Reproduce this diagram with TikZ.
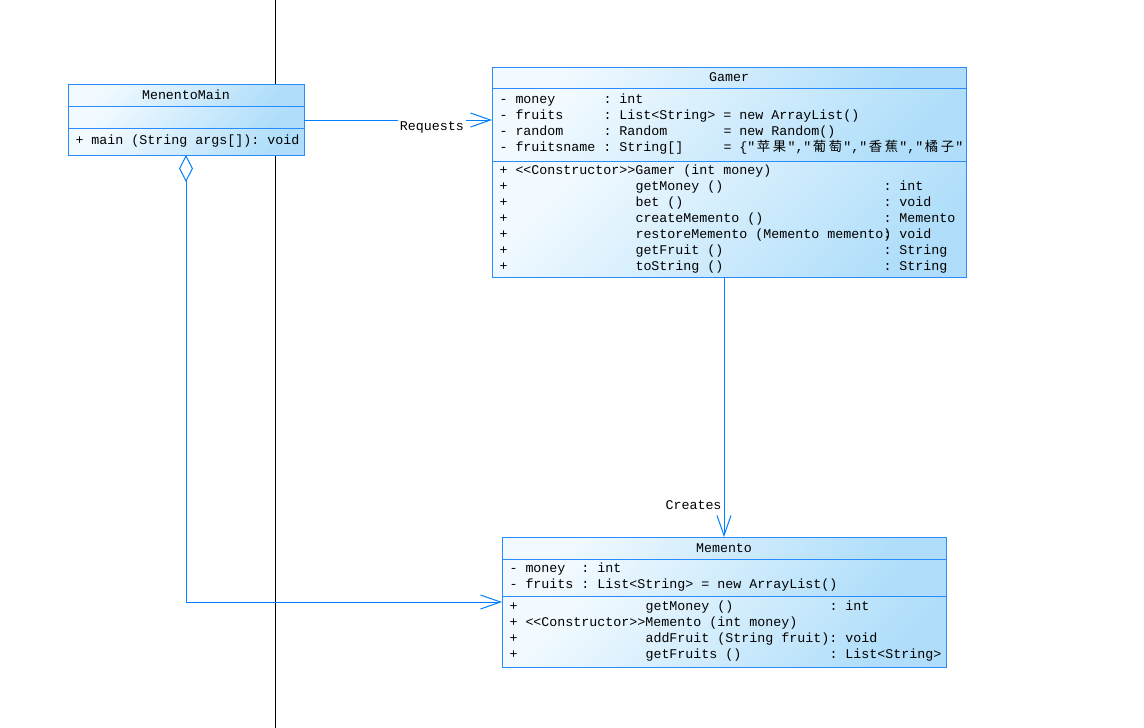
\documentclass[tikz,border=0pt]{standalone}
\usepackage{fontspec}
\setmonofont{Liberation Mono}
\newfontfamily\cjk{Noto Sans CJK SC}
\usetikzlibrary{arrows.meta, positioning}

\definecolor{umlline}{RGB}{0,128,255}
\definecolor{umlborder}{RGB}{40,140,255}
\definecolor{umllight}{RGB}{242,250,255}
\definecolor{umldark}{RGB}{176,222,250}

\newlength{\chw}
\setlength{\chw}{8pt}
\newcommand{\umlfont}{\ttfamily\fontsize{13.33pt}{16pt}\selectfont}
\newcommand{\fld}[2]{\makebox[#1\chw][l]{#2}}
\newcommand{\chsp}{\hspace*{\chw}}
\newcommand{\hz}[1]{\makebox[2\chw]{\cjk #1}}

\begin{document}
\begin{tikzpicture}[
    x=1pt, y=-1pt,
    compartment/.style={
        rectangle,
        draw=umlborder,
        line width=1pt,
        top color=umllight,
        bottom color=umldark,
        shading angle=45,
        inner xsep=7.5pt,
        inner ysep=0pt,
        outer sep=0pt,
        font=\umlfont
    },
    classtitle/.style={
        compartment,
        align=center
    },
    members/.style={
        compartment,
        align=left
    },
    assoc/.style={
        draw=umlline,
        line width=1pt,
        -{Straight Barb[length=20pt, width=14pt]}
    },
    aggr/.style={
        draw=umlline,
        line width=1pt,
        {Diamond[open, length=27pt, width=14pt]}-{Straight Barb[length=20pt, width=14pt]}
    },
    connlabel/.style={
        font=\umlfont,
        inner xsep=2pt,
        inner ysep=3pt
    }
]

\path[fill=white] (0,0) rectangle (1144,728);
\useasboundingbox (0,0) rectangle (1144,728);

% Linha vertical ao fundo
\draw[line width=1pt] (275,0) -- (275,728);

% Classe: MenentoMain
\node[classtitle, minimum width=236pt, minimum height=22pt] (main-title) at (186,95) {MenentoMain};
\node[members, text width=221pt, minimum height=22pt, below=0pt of main-title] (main-attrs) {};
\node[members, text width=221pt, minimum height=27pt, below=0pt of main-attrs] (main-ops) {%
    \fld{2}{+}main\chsp (String\chsp args[]):\chsp void%
};

% Classe: Gamer
\node[classtitle, minimum width=474pt, minimum height=21pt] (gamer-title) at (729,77.5) {Gamer};
\node[members, text width=459pt, minimum height=73pt, below=0pt of gamer-title] (gamer-attrs) {%
    \fld{2}{-}\fld{11}{money}\fld{2}{:}int\\
    \fld{2}{-}\fld{11}{fruits}\fld{2}{:}\fld{13}{List<String>}\fld{2}{=}new\chsp ArrayList()\\
    \fld{2}{-}\fld{11}{random}\fld{2}{:}\fld{13}{Random}\fld{2}{=}new\chsp Random()\\
    \fld{2}{-}\fld{11}{fruitsname}\fld{2}{:}\fld{13}{String[]}\fld{2}{=}\{"\hz{苹}\hz{果}","\hz{葡}\hz{萄}","\hz{香}\hz{蕉}","\hz{橘}\hz{子}"%
};
\node[members, text width=459pt, minimum height=116pt, below=0pt of gamer-attrs] (gamer-ops) {%
    \fld{2}{+}<<Constructor>>Gamer\chsp (int\chsp money)\\
    \fld{2}{+}\fld{15}{}\fld{31}{getMoney\chsp ()}\fld{2}{:}int\\
    \fld{2}{+}\fld{15}{}\fld{31}{bet\chsp ()}\fld{2}{:}void\\
    \fld{2}{+}\fld{15}{}\fld{31}{createMemento\chsp ()}\fld{2}{:}Memento\\
    \fld{2}{+}\fld{15}{}\fld{31}{restoreMemento\chsp (Memento\chsp memento)}\fld{2}{:}void\\
    \fld{2}{+}\fld{15}{}\fld{31}{getFruit\chsp ()}\fld{2}{:}String\\
    \fld{2}{+}\fld{15}{}\fld{31}{toString\chsp ()}\fld{2}{:}String%
};

% Classe: Memento
\node[classtitle, minimum width=444pt, minimum height=22pt] (memento-title) at (724,548) {Memento};
\node[members, text width=429pt, minimum height=37pt, below=0pt of memento-title] (memento-attrs) {%
    \fld{2}{-}\fld{7}{money}\fld{2}{:}int\\
    \fld{2}{-}\fld{7}{fruits}\fld{2}{:}\fld{13}{List<String>}\fld{2}{=}new\chsp ArrayList()%
};
\node[members, text width=429pt, minimum height=71pt, below=0pt of memento-attrs] (memento-ops) {%
    \fld{2}{+}\fld{15}{}\fld{23}{getMoney\chsp ()}\fld{2}{:}int\\
    \fld{2}{+}<<Constructor>>Memento\chsp (int\chsp money)\\
    \fld{2}{+}\fld{15}{}\fld{23}{addFruit\chsp (String\chsp fruit)}\fld{2}{:}void\\
    \fld{2}{+}\fld{15}{}\fld{23}{getFruits\chsp ()}\fld{2}{:}List<String>%
};

% Ligacoes
\coordinate (aggend) at ([yshift=-6pt]memento-ops.north west);

\draw[assoc] ([yshift=-3pt]main-attrs.east) -- node[connlabel, fill=white, pos=0.68, yshift=-7pt] (reqlabel) {Requests} ([yshift=-3pt]main-attrs.east -| gamer-attrs.west);
\draw[assoc] (memento-title.north |- gamer-ops.south) -- node[connlabel, left, pos=0.877] (crelabel) {Creates} (memento-title.north);
\draw[aggr] (main-ops.south) |- (aggend);

\end{tikzpicture}
\end{document}
